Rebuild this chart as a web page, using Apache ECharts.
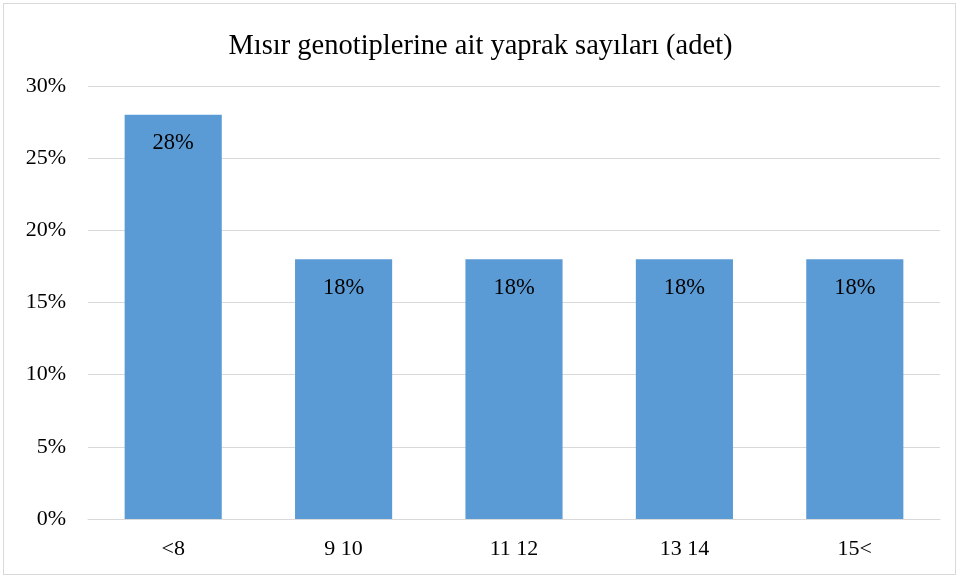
<!DOCTYPE html>
<html><head><meta charset="utf-8">
<script src="https://cdn.jsdelivr.net/npm/echarts@6/dist/echarts.min.js"></script>
<style>html,body{margin:0;padding:0;background:#fff}#c{width:961px;height:581px}
#frame{position:absolute;left:3px;top:3px;width:953px;height:572px;border:1px solid #d9d9d9;box-sizing:border-box;pointer-events:none}</style>
</head><body><div id="c"></div><div id="frame"></div>
<script>
const categories = ['<8', '9 10', '11 12', '13 14', '15<'];
const values = [28, 18, 18, 18, 18];
const yTicks = [0, 5, 10, 15, 20, 25, 30];
const titleText = 'Mısır genotiplerine ait yaprak sayıları (adet)';

const font = '"Liberation Serif", "Times New Roman", serif';
const chart = echarts.init(document.getElementById('c'));
chart.setOption({
  animation: false,
  title: { text: titleText, left: 'center', top: 27, textStyle: { fontFamily: font, fontSize: 28.5, fontWeight: 'normal', color: '#000' } },
  grid: { left: 88, right: 21, top: 86, bottom: 62 },
  xAxis: {
    type: 'category', data: categories,
    axisLine: { lineStyle: { color: '#d9d9d9' } },
    axisTick: { show: false },
    axisLabel: { fontFamily: font, fontSize: 22, color: '#000', margin: 19 }
  },
  yAxis: {
    type: 'value', min: yTicks[0], max: yTicks[yTicks.length - 1], interval: 5,
    axisLine: { show: false }, axisTick: { show: false },
    splitLine: { lineStyle: { color: '#d9d9d9', width: 1 } },
    axisLabel: { fontFamily: font, fontSize: 22, color: '#000', margin: 22, formatter: v => v + '%' }
  },
  series: [{
    type: 'bar', data: values, barWidth: '57%',
    itemStyle: { color: '#5b9bd5' },
    label: { show: true, position: 'insideTop', distance: 17, fontFamily: font, fontSize: 22.5, color: '#000', formatter: p => p.value + '%' }
  }]
});
</script></body></html>
